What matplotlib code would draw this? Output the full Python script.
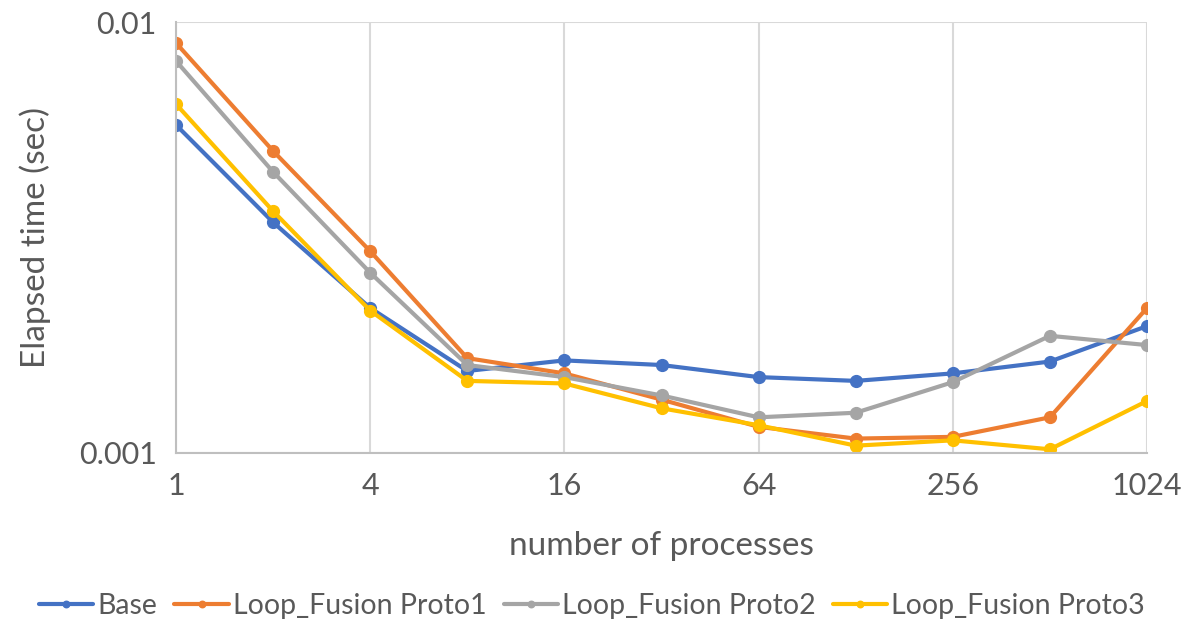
import matplotlib.pyplot as plt
from matplotlib.ticker import FixedLocator, NullLocator, FixedFormatter

plt.rcParams['font.family'] = ['Lato', 'DejaVu Sans']

procs = [1, 2, 4, 8, 16, 32, 64, 128, 256, 512, 1024]
base = [0.00577, 0.00343, 0.00217, 0.00155, 0.00164, 0.00160, 0.00150, 0.00147, 0.00153, 0.00163, 0.00197]
proto1 = [0.00894, 0.00502, 0.00294, 0.00166, 0.00153, 0.00133, 0.00115, 0.00108, 0.00109, 0.00121, 0.00217]
proto2 = [0.00812, 0.00449, 0.00262, 0.00160, 0.00150, 0.00136, 0.00121, 0.00124, 0.00146, 0.00187, 0.00178]
proto3 = [0.00645, 0.00364, 0.00214, 0.00147, 0.00145, 0.00127, 0.00116, 0.00104, 0.00107, 0.00102, 0.00132]

series = [
    ('Base', base, '#4472C4'),
    ('Loop_Fusion Proto1', proto1, '#ED7D31'),
    ('Loop_Fusion Proto2', proto2, '#A5A5A5'),
    ('Loop_Fusion Proto3', proto3, '#FFC000'),
]

fig = plt.figure(figsize=(11.84, 6.34), dpi=100)
ax = fig.add_axes([176/1184, 1-453/634, (1147-176)/1184, (453-22)/634])

for name, vals, col in series:
    ax.plot(procs, vals, color=col, lw=3, marker='o', ms=8.5, label=name,
            solid_capstyle='round', solid_joinstyle='round')

ax.set_xscale('log', base=2)
ax.set_yscale('log')
ax.set_xlim(1, 1024)
ax.set_ylim(0.001, 0.01)

xt = [1, 4, 16, 64, 256, 1024]
ax.xaxis.set_major_locator(FixedLocator(xt))
ax.xaxis.set_major_formatter(FixedFormatter([str(v) for v in xt]))
ax.xaxis.set_minor_locator(NullLocator())
ax.yaxis.set_major_locator(FixedLocator([0.001, 0.01]))
ax.yaxis.set_major_formatter(FixedFormatter(['0.001', '0.01']))
ax.yaxis.set_minor_locator(NullLocator())

ax.grid(True, axis='both', color='#D9D9D9', lw=1.5)
ax.set_axisbelow(True)
for s in ['top', 'right']:
    ax.spines[s].set_visible(False)
for s in ['left', 'bottom']:
    ax.spines[s].set_color('#BFBFBF')
    ax.spines[s].set_linewidth(1.5)
ax.tick_params(length=0, labelsize=22, colors='#595959', pad=14)
for lab in ax.get_xticklabels() + ax.get_yticklabels():
    lab.set_color('#595959')

ax.set_xlabel('number of processes', fontsize=24, color='#595959', labelpad=22)
ax.set_ylabel('Elapsed time (sec)', fontsize=24, color='#595959', labelpad=20)

fig.legend(loc='center', bbox_to_anchor=(0.5, 1-606/634), ncol=4, frameon=False,
           fontsize=20.5, labelcolor='#595959', handlelength=1.9, handletextpad=0.15,
           columnspacing=0.6, markerscale=0.55)

fig.savefig('out.png', dpi=100)
